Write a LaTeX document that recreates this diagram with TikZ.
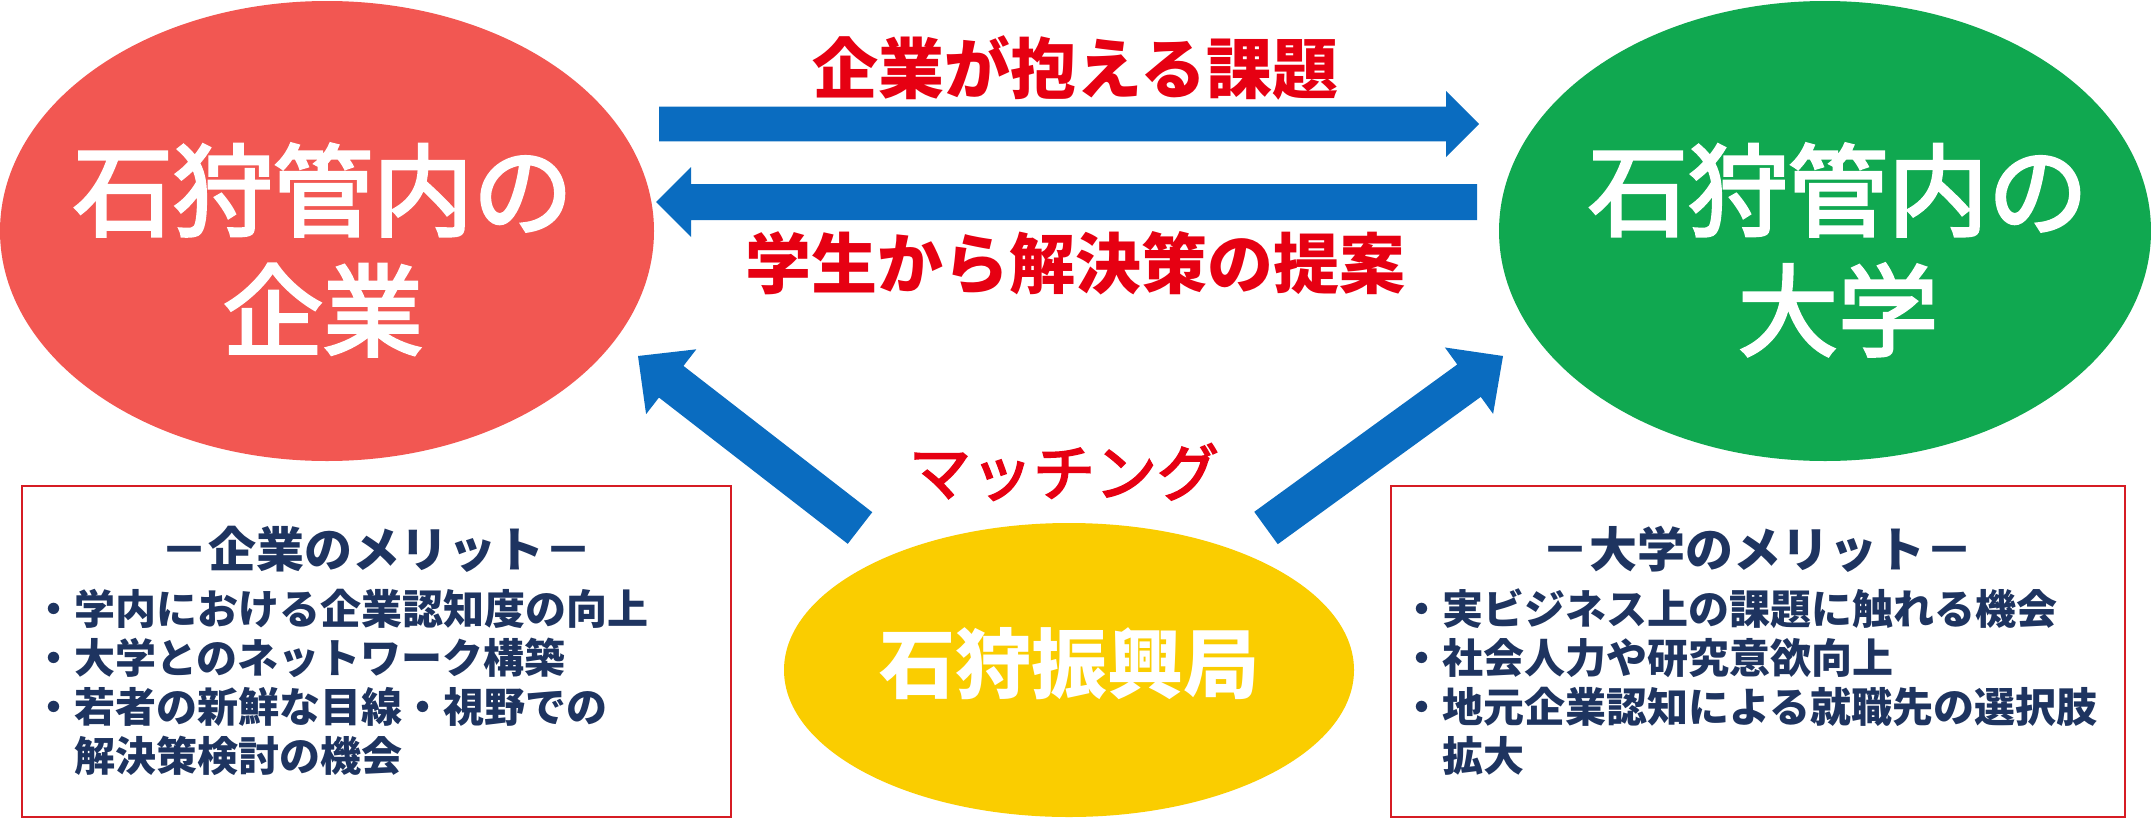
\documentclass[tikz,border=0pt]{standalone}
\usepackage{fontspec}
\setmainfont{Noto Sans CJK JP}
\newfontfamily\jpmed{Noto Sans CJK JP}[FakeBold=3]
\usetikzlibrary{shapes.geometric,calc}
\definecolor{redE}{RGB}{242,87,82}
\definecolor{greenE}{RGB}{16,168,80}
\definecolor{yellowE}{RGB}{250,205,0}
\definecolor{blueA}{RGB}{10,108,192}
\definecolor{redT}{RGB}{230,0,18}
\definecolor{navyT}{RGB}{30,52,96}
\definecolor{boxR}{RGB}{214,28,36}
\newcommand\blkarrow[5]{%
  \coordinate (hb-#1-#2) at ($(#2)!#5!(#1)$);
  \fill[arrowfill] ($(#1)!#3!90:(#2)$) -- ($(hb-#1-#2)!#3!-90:(#1)$) -- ($(hb-#1-#2)!#4!-90:(#1)$) -- (#2) -- ($(hb-#1-#2)!#4!90:(#1)$) -- ($(hb-#1-#2)!#3!90:(#1)$) -- ($(#1)!#3!-90:(#2)$) -- cycle;
}
\begin{document}
\begin{tikzpicture}[x=0.5pt,y=-0.5pt,
  ell/.style={ellipse, inner sep=0pt, outer sep=0pt, draw=none},
  bigtxt/.style={text=white, align=center, inner sep=0pt, font=\jpmed\fontsize{50pt}{60pt}\selectfont},
  lbl/.style={text=redT, inner sep=0pt, font=\bfseries\fontsize{33pt}{40pt}\selectfont},
  meritbox/.style={draw=boxR, line width=1.4pt, inner sep=0pt, fill=white},
  mtitle/.style={text=navyT, inner sep=0pt, font=\bfseries\fontsize{24pt}{28pt}\selectfont},
  mlist/.style={text=navyT, inner sep=0pt, align=left, anchor=west, font=\bfseries\fontsize{20.5pt}{24.5pt}\selectfont},
  arrowfill/.style={fill=blueA}
]
\useasboundingbox (0,0) rectangle (2151,819);
\fill[white] (0,0) rectangle (2151,819);

% main ellipses
\node[ell, fill=redE, minimum width=327pt, minimum height=230pt] (corp) at (327,231) {};
\node[ell, fill=greenE, minimum width=326pt, minimum height=230pt] (univ) at (1825,231) {};
\node[ell, fill=yellowE, minimum width=285pt, minimum height=147pt] (office) at (1069,670) {};

\node[bigtxt] (corpT) at (323,250) {石狩管内の\\企業};
\node[bigtxt] (univT) at (1838,250) {石狩管内の\\大学};
\node[text=white, inner sep=0pt, font=\bfseries\fontsize{38pt}{44pt}\selectfont] (officeT) at (1069,664) {石狩振興局};

% arrow end points
\coordinate (a1s) at (659,124);
\coordinate (a1e) at (1479,124);
\coordinate (a2s) at (1477,202);
\coordinate (a2e) at (656,202);
\coordinate (a3s) at (860,528);
\coordinate (a3e) at (638,356);
\coordinate (a4s) at (1266,528);
\coordinate (a4e) at (1503,356);

\blkarrow{a1s}{a1e}{8.7pt}{16.5pt}{16.5pt}
\blkarrow{a2s}{a2e}{9pt}{17.5pt}{17.5pt}
\blkarrow{a3s}{a3e}{10pt}{20.5pt}{21pt}
\blkarrow{a4s}{a4e}{10pt}{20.5pt}{21pt}

% labels
\node[lbl] (lab1) at (1075,68) {企業が抱える課題};
\node[lbl] (lab2) at (1075,263) {学生から解決策の提案};
\node[text=redT, inner sep=0pt, font=\jpmed\fontsize{31pt}{36pt}\selectfont] (lab3) at (1064,472) {マッチング};

% merit boxes
\node[meritbox, minimum width=354.5pt, minimum height=165.5pt] (lbox) at (376.5,651.5) {};
\node[meritbox, minimum width=367pt, minimum height=165.5pt] (rbox) at (1758,651.5) {};

\node[mtitle] (ltitle) at (376,549) {－企業のメリット－};
\node[mtitle] (rtitle) at (1757,549) {－大学のメリット－};

\node[mlist] (llist) at (33,682) {・学内における企業認知度の向上\\・大学とのネットワーク構築\\・若者の新鮮な目線・視野での\\\hspace*{1em}解決策検討の機会};
\node[mlist] (rlist) at (1401,682) {・実ビジネス上の課題に触れる機会\\・社会人力や研究意欲向上\\・地元企業認知による就職先の選択肢\\\hspace*{1em}拡大};
\end{tikzpicture}
\end{document}
